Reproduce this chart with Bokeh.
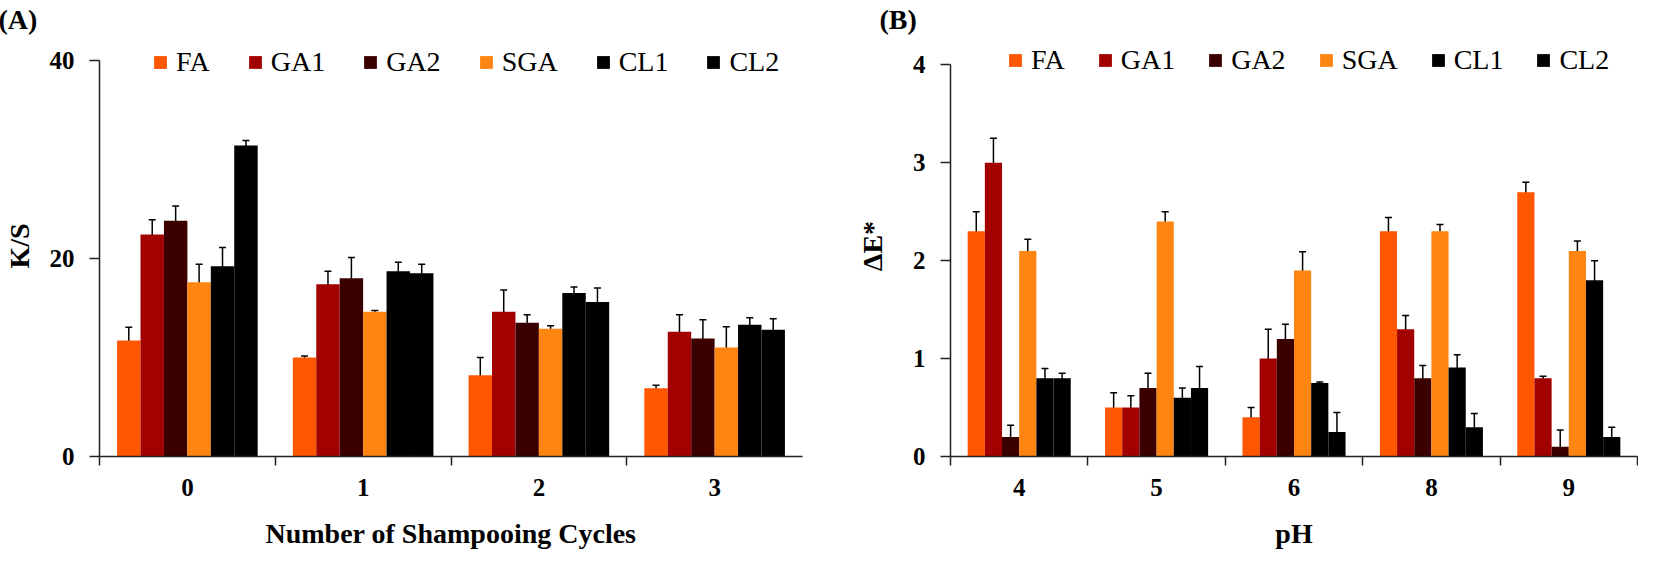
from bokeh.plotting import figure
from bokeh.models import (Range1d, FixedTicker, Whisker, TeeHead, ColumnDataSource,
                          Legend, LegendItem)
from bokeh.layouts import row
from bokeh.embed import file_html
from bokeh.resources import INLINE

# ---------------- data ----------------
series = ["FA", "GA1", "GA2", "SGA", "CL1", "CL2"]
colors = ["#FF5600", "#A30000", "#3A0000", "#FF8512", "#000000", "#000000"]

cycles = ["0", "1", "2", "3"]
ks_FA = [11.7, 10.0, 8.2, 6.9]
ks_GA1 = [22.4, 17.4, 14.6, 12.6]
ks_GA2 = [23.8, 18.0, 13.5, 11.9]
ks_SGA = [17.6, 14.6, 12.9, 11.0]
ks_CL1 = [19.2, 18.7, 16.5, 13.3]
ks_CL2 = [31.4, 18.5, 15.6, 12.8]
ks_err_FA = [1.35, 0.15, 1.8, 0.3]
ks_err_GA1 = [1.5, 1.3, 2.2, 1.7]
ks_err_GA2 = [1.5, 2.1, 0.8, 1.9]
ks_err_SGA = [1.8, 0.15, 0.3, 2.1]
ks_err_CL1 = [1.9, 0.9, 0.6, 0.7]
ks_err_CL2 = [0.5, 0.9, 1.4, 1.1]

ph = ["4", "5", "6", "8", "9"]
de_FA = [2.3, 0.5, 0.4, 2.3, 2.7]
de_GA1 = [3.0, 0.5, 1.0, 1.3, 0.8]
de_GA2 = [0.2, 0.7, 1.2, 0.8, 0.1]
de_SGA = [2.1, 2.4, 1.9, 2.3, 2.1]
de_CL1 = [0.8, 0.6, 0.75, 0.91, 1.8]
de_CL2 = [0.8, 0.7, 0.25, 0.3, 0.2]
de_err_FA = [0.2, 0.15, 0.1, 0.14, 0.1]
de_err_GA1 = [0.25, 0.12, 0.3, 0.14, 0.02]
de_err_GA2 = [0.12, 0.15, 0.15, 0.13, 0.17]
de_err_SGA = [0.12, 0.1, 0.19, 0.07, 0.1]
de_err_CL1 = [0.1, 0.1, 0.01, 0.13, 0.2]
de_err_CL2 = [0.05, 0.22, 0.2, 0.14, 0.1]

ks_ticks = [0, 20, 40]
de_ticks = [0, 1, 2, 3, 4]

ks_vals = [ks_FA, ks_GA1, ks_GA2, ks_SGA, ks_CL1, ks_CL2]
ks_errs = [ks_err_FA, ks_err_GA1, ks_err_GA2, ks_err_SGA, ks_err_CL1, ks_err_CL2]
de_vals = [de_FA, de_GA1, de_GA2, de_SGA, de_CL1, de_CL2]
de_errs = [de_err_FA, de_err_GA1, de_err_GA2, de_err_SGA, de_err_CL1, de_err_CL2]

SERIF = "Liberation Serif"


def make_panel(cats, vals, errs, yticks, yview, width, height, group_frac,
               borders, ytitle, xtitle, panel_label, title_offset, legend_loc,
               legend_spacing, ylabel_standoff, last_tick):
    bl, br, bt, bb = borders
    p = figure(width=width, height=height, output_backend="svg", toolbar_location=None,
               x_range=Range1d(-0.5, len(cats) - 0.5), y_range=Range1d(0, yview),
               min_border_left=bl, min_border_right=br, min_border_top=bt,
               min_border_bottom=bb, outline_line_color=None,
               title=panel_label)
    p.xgrid.visible = False
    p.ygrid.visible = False

    p.title.align = "left"
    p.title.offset = title_offset
    p.title.standoff = 2
    p.title.text_font = SERIF
    p.title.text_font_style = "bold"
    p.title.text_font_size = "28px"
    p.title.text_color = "black"

    n = len(series)
    bw = group_frac / n
    items = []
    for j, s in enumerate(series):
        xs = [i + (j - (n - 1) / 2) * bw for i in range(len(cats))]
        src = ColumnDataSource(dict(x=xs, top=vals[j],
                                    upper=[v + e for v, e in zip(vals[j], errs[j])],
                                    lower=[v - e for v, e in zip(vals[j], errs[j])]))
        r = p.vbar(x="x", top="top", width=bw, source=src, fill_color=colors[j],
                   line_color=None)
        items.append(LegendItem(label=s, renderers=[r]))
        w = Whisker(base="x", upper="upper", lower="lower", source=src,
                    line_color="black", line_width=1.5,
                    upper_head=TeeHead(size=7, line_width=1.5, line_color="black"),
                    lower_head=TeeHead(size=7, line_width=1.5, line_color="black"))
        p.add_layout(w)

    # x axis: labels at category centres, ticks at category boundaries
    minor = [k - 0.5 for k in range(len(cats) + (1 if last_tick else 0))]
    p.xaxis.ticker = FixedTicker(ticks=list(range(len(cats))), minor_ticks=minor)
    p.xaxis.major_label_overrides = {i: c for i, c in enumerate(cats)}
    p.xaxis.major_tick_out = 0
    p.xaxis.major_tick_in = 0
    p.xaxis.minor_tick_out = 9
    p.xaxis.minor_tick_in = 0
    p.xaxis.minor_tick_line_width = 1.5
    p.xaxis.minor_tick_line_color = "#222222"
    p.xaxis.major_label_standoff = 13
    p.xaxis.axis_label = xtitle
    p.xaxis.axis_label_standoff = 19

    p.yaxis.ticker = FixedTicker(ticks=yticks)
    p.yaxis.bounds = (yticks[0], yticks[-1])
    p.yaxis.minor_tick_line_color = None
    p.yaxis.major_tick_out = 10
    p.yaxis.major_tick_in = 0
    p.yaxis.major_tick_line_width = 1.5
    p.yaxis.major_tick_line_color = "#222222"
    p.yaxis.major_label_standoff = 15
    p.yaxis.axis_label = ytitle
    p.yaxis.axis_label_standoff = ylabel_standoff

    for ax in (p.xaxis, p.yaxis):
        ax.axis_line_color = "#222222"
        ax.axis_line_width = 1.5
        ax.major_label_text_font = SERIF
        ax.major_label_text_font_style = "bold"
        ax.major_label_text_font_size = "25px"
        ax.major_label_text_color = "black"
        ax.axis_label_text_font = SERIF
        ax.axis_label_text_font_style = "bold"
        ax.axis_label_text_font_size = "28px"
        ax.axis_label_text_color = "black"

    legend = Legend(items=items, orientation="horizontal", location=legend_loc,
                    glyph_width=16, glyph_height=16, label_standoff=8,
                    spacing=legend_spacing, padding=0, margin=0,
                    border_line_color=None, background_fill_alpha=0,
                    label_text_font=SERIF, label_text_font_size="28px",
                    label_text_color="black")
    p.add_layout(legend)
    return p


# panel A: frame spans page x 107..810, y 40..464 (value 0 at 464, 40 at 65)
pa = make_panel(cycles, ks_vals, ks_errs, ks_ticks, 42.5, 830, 551, 0.8,
                (99, 28, 32, 95), "K/S", "Number of Shampooing Cycles",
                "(A)", -101, (53, 378), 37, 12, False)
# panel B: frame spans page x 958..1645, y 40..467 (value 0 at 467, 4 at 70)
pb = make_panel(ph, de_vals, de_errs, de_ticks, 4.30, 808, 551, 0.75,
                (120, 1, 32, 92), "ΔE*", "pH",
                "(B)", -71, (57, 380), 32, 22, True)

layout = row(pa, pb)
open("out.html", "w").write(file_html(layout, INLINE))
